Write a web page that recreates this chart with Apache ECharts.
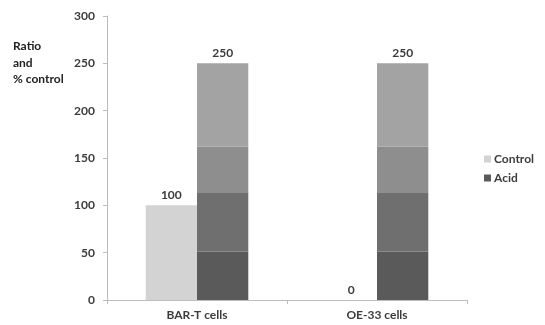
<!DOCTYPE html>
<html>
<head>
<meta charset="utf-8">
<script src="https://cdn.jsdelivr.net/npm/echarts@6/dist/echarts.min.js"></script>
<style>
  html, body { margin: 0; padding: 0; background: #fff; }
  #chart { width: 545px; height: 325px; }
</style>
</head>
<body>
<div id="chart"></div>
<script>
// Cell lines on the x axis
const categories = ['BAR-T cells', 'OE-33 cells'];
// Control values (%)
const controlValues = [100, 0];
// Acid ratio, drawn as four stacked bands (bottom to top)
const acidBand1 = [51, 51];
const acidBand2 = [62, 62];
const acidBand3 = [49, 49];
const acidBand4 = [88, 88];
// Y axis range
const yTicks = [0, 50, 100, 150, 200, 250, 300];

const acidBands = [acidBand1, acidBand2, acidBand3, acidBand4];
const acidNames = ['Acid', 'Acid 2', 'Acid 3', 'Acid 4'];
const acidColors = ['#5a5a5a', '#6f6f6f', '#8e8e8e', '#a3a3a3'];
const FONT = 'Lato, "Liberation Sans", sans-serif';
const TEXT = '#3c3c3c';

const acidTotal = i => acidBands.reduce((s, b) => s + b[i], 0);

const valueLabel = {
  show: true, position: 'top', distance: 4,
  color: TEXT, fontSize: 12, fontWeight: 'bold', fontFamily: FONT
};

const series = [{
  name: 'Control',
  type: 'bar',
  data: controlValues,
  barGap: '0%',
  barCategoryGap: '43%',
  itemStyle: { color: '#d3d3d3' },
  label: valueLabel
}];

acidBands.forEach((band, k) => {
  series.push({
    name: acidNames[k],
    type: 'bar',
    stack: 'acid',
    data: band,
    barGap: '0%',
    barCategoryGap: '43%',
    itemStyle: { color: acidColors[k] },
    label: k === acidBands.length - 1 ? Object.assign({}, valueLabel, {
      formatter: p => String(acidTotal(p.dataIndex))
    }) : { show: false }
  });
});

const chart = echarts.init(document.getElementById('chart'), null, { renderer: 'canvas' });
chart.setOption({
  animation: false,
  backgroundColor: '#ffffff',
  textStyle: { fontFamily: FONT },
  grid: { left: 107, right: 78, top: 16, bottom: 25, containLabel: false },
  graphic: [{
    type: 'text',
    left: 13,
    top: 38,
    style: {
      text: 'Ratio\nand\n% control',
      fill: '#222',
      font: 'bold 12px ' + FONT,
      lineHeight: 16.5
    }
  }],
  legend: {
    data: ['Control', 'Acid'],
    orient: 'vertical',
    left: 479,
    top: 148,
    itemWidth: 7,
    itemHeight: 7,
    itemGap: 7,
    icon: 'rect',
    textStyle: { color: TEXT, fontSize: 12, fontWeight: 'bold', fontFamily: FONT, padding: [0, 0, 0, -2] }
  },
  xAxis: {
    type: 'category',
    data: categories,
    axisLine: { lineStyle: { color: '#bdbdbd' } },
    axisTick: { show: true, alignWithLabel: false, length: 4, lineStyle: { color: '#bdbdbd' } },
    axisLabel: { color: TEXT, fontSize: 12, fontWeight: 'bold', fontFamily: FONT, margin: 9 }
  },
  yAxis: {
    type: 'value',
    min: yTicks[0],
    max: yTicks[yTicks.length - 1],
    interval: yTicks[1] - yTicks[0],
    splitLine: { show: false },
    axisLine: { show: true, lineStyle: { color: '#bdbdbd' } },
    axisTick: { show: true, length: 4, lineStyle: { color: '#bdbdbd' } },
    axisLabel: { color: TEXT, fontSize: 12, fontWeight: 'bold', fontFamily: FONT, margin: 12 }
  },
  series: series
});
</script>
</body>
</html>
